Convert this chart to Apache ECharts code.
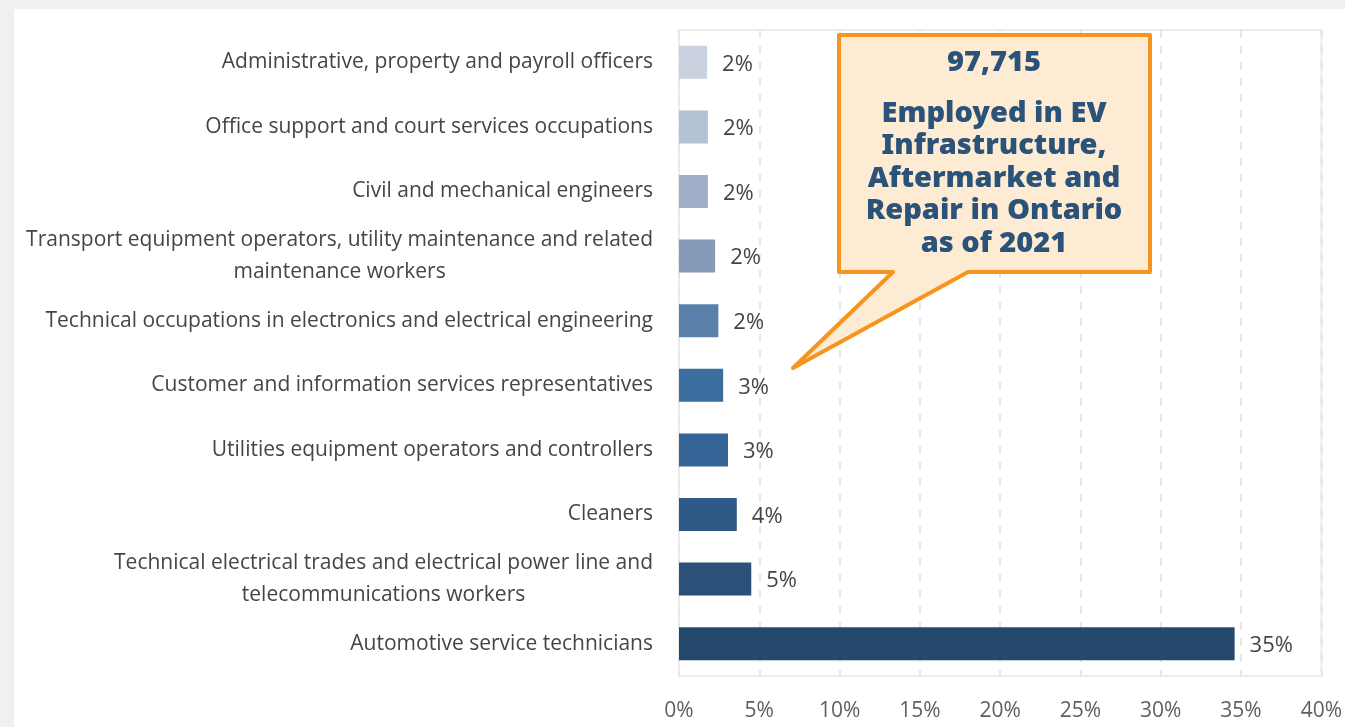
<!DOCTYPE html>
<html>
<head>
<meta charset="utf-8">
<script src="https://cdn.jsdelivr.net/npm/echarts@6/dist/echarts.min.js"></script>
<style>
  html, body { margin: 0; padding: 0; background: #f0f0f0; }
  #chart { position: absolute; left: 14px; top: 9px; width: 1331px; height: 718px; background: #ffffff; }
</style>
</head>
<body>
<div id="chart"></div>
<script>
const categories = [
  "Administrative, property and payroll officers",
  "Office support and court services occupations",
  "Civil and mechanical engineers",
  "Transport equipment operators, utility maintenance and related\nmaintenance workers",
  "Technical occupations in electronics and electrical engineering",
  "Customer and information services representatives",
  "Utilities equipment operators and controllers",
  "Cleaners",
  "Technical electrical trades and electrical power line and\ntelecommunications workers",
  "Automotive service technicians"
];
const shares = [1.75, 1.8, 1.8, 2.25, 2.45, 2.75, 3.05, 3.6, 4.5, 34.6];
const barColors = [
  "#cad1df", "#b5c1d4", "#9eaec7", "#8599b8", "#5a7fab",
  "#3b6d9f", "#346596", "#2f5a88", "#2b5179", "#24496d"
];
const calloutTotal = "97,715";
const calloutLines = [
  "Employed in EV",
  "Infrastructure,",
  "Aftermarket and",
  "Repair in Ontario",
  "as of 2021"
];

const font = '"Open Sans", "Noto Sans", sans-serif';
const textColor = "#454545";
const chart = echarts.init(document.getElementById("chart"), null, { renderer: "canvas" });

const option = {
  animation: false,
  textStyle: { fontFamily: font },
  grid: {
    left: 665, top: 21, right: 19, bottom: 51,
    show: true, borderColor: "#ececec", borderWidth: 2
  },
  xAxis: {
    type: "value",
    min: 0, max: 40, interval: 5,
    axisLine: { show: false },
    axisTick: { show: false },
    splitLine: { show: true, lineStyle: { color: "#e6e6e6", width: 2, type: [8, 8] } },
    axisLabel: { formatter: "{value}%", fontSize: 21, color: "#5f5f5f", margin: 25, fontFamily: font }
  },
  yAxis: {
    type: "category",
    inverse: true,
    data: categories,
    axisLine: { show: false },
    axisTick: { show: false },
    axisLabel: {
      margin: 26,
      fontFamily: font,
      formatter: (v) => v.split("\n").map((l) => "{c|" + l + "}").join("\n"),
      rich: { c: { align: "center", fontSize: 21, lineHeight: 32, color: textColor, fontFamily: font } }
    }
  },
  series: [{
    type: "bar",
    barWidth: 33,
    data: shares.map((v, i) => ({ value: v, itemStyle: { color: barColors[i] } })),
    label: {
      show: true,
      position: "right",
      distance: 15,
      fontSize: 22,
      color: textColor,
      fontFamily: font,
      offset: [0, 2],
      formatter: (p) => Math.round(p.value) + "%"
    }
  }],
  graphic: [
    {
      type: "polygon",
      z: 100,
      shape: {
        points: [[825, 26], [1136, 26], [1136, 263], [954, 263], [779, 359], [879, 263], [825, 263]]
      },
      style: { fill: "#fdebd3", stroke: "#f7941d", lineWidth: 4, lineJoin: "round" }
    },
    {
      type: "text",
      z: 101,
      style: {
        x: 980, y: 54,
        text: calloutTotal,
        textAlign: "center",
        textVerticalAlign: "middle",
        fill: "#2b5279",
        font: '900 29px "Noto Sans", sans-serif'
      }
    },
    {
      type: "text",
      z: 101,
      style: {
        x: 980, y: 88,
        text: calloutLines.join("\n"),
        textAlign: "center",
        textVerticalAlign: "top",
        fill: "#2b5279",
        font: '900 29px "Noto Sans", sans-serif',
        lineHeight: 32.5
      }
    }
  ]
};
chart.setOption(option);
</script>
</body>
</html>
